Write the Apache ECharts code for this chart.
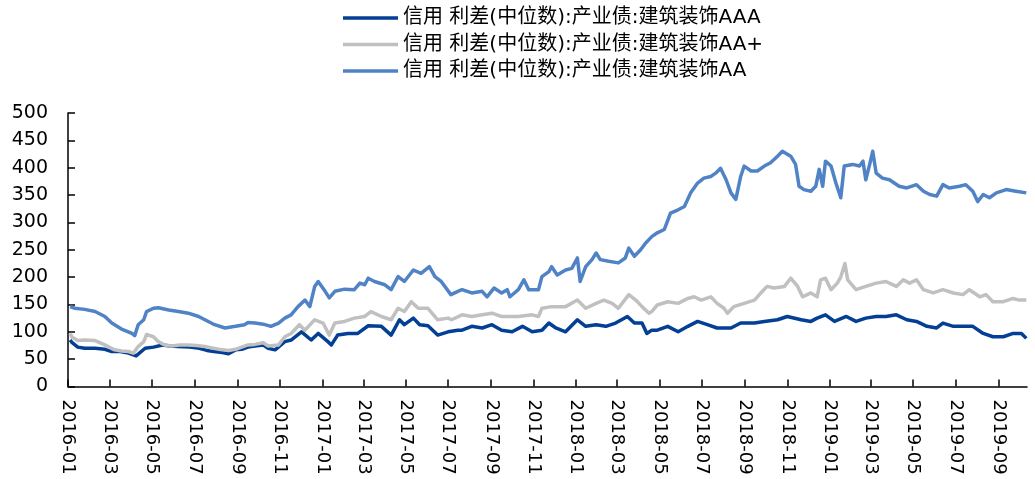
<!DOCTYPE html>
<html>
<head>
<meta charset="utf-8">
<script src="https://cdn.jsdelivr.net/npm/echarts@6/dist/echarts.min.js"></script>
<style>
  html, body { margin: 0; padding: 0; background: #ffffff; }
  #chart { width: 1035px; height: 479px; }
</style>
</head>
<body>
<div id="chart"></div>
<script>
// 信用利差(中位数), 产业债, 建筑装饰, 单位: BP
const seriesNames = [
  '信用 利差(中位数):产业债:建筑装饰AAA',
  '信用 利差(中位数):产业债:建筑装饰AA+',
  '信用 利差(中位数):产业债:建筑装饰AA'
];

const aaaData = [
  ['2016-01-04', 85], ['2016-01-07', 80], ['2016-01-15', 72], ['2016-01-25', 70], ['2016-02-09', 70],
  ['2016-02-23', 68], ['2016-03-04', 64], ['2016-03-16', 64], ['2016-03-28', 61], ['2016-04-08', 56],
  ['2016-04-21', 70], ['2016-05-03', 72], ['2016-05-16', 76], ['2016-05-27', 74], ['2016-06-07', 73],
  ['2016-06-24', 72], ['2016-07-08', 70], ['2016-07-19', 66], ['2016-07-29', 64], ['2016-08-10', 62],
  ['2016-08-19', 60], ['2016-08-29', 67], ['2016-09-07', 68], ['2016-09-16', 72], ['2016-09-26', 74],
  ['2016-10-08', 76], ['2016-10-15', 70], ['2016-10-25', 67], ['2016-11-08', 82], ['2016-11-17', 85],
  ['2016-12-02', 100], ['2016-12-16', 85], ['2016-12-26', 97], ['2017-01-09', 82], ['2017-01-14', 76],
  ['2017-01-23', 94], ['2017-02-07', 97], ['2017-02-21', 97], ['2017-03-08', 111], ['2017-03-27', 110],
  ['2017-04-10', 94], ['2017-04-22', 122], ['2017-04-29', 113], ['2017-05-12', 125], ['2017-05-21', 113],
  ['2017-06-02', 111], ['2017-06-16', 94], ['2017-07-01', 100], ['2017-07-15', 103], ['2017-07-21', 103],
  ['2017-08-04', 110], ['2017-08-19', 107], ['2017-09-02', 113], ['2017-09-16', 103], ['2017-10-01', 100],
  ['2017-10-16', 110], ['2017-10-30', 100], ['2017-11-13', 103], ['2017-11-23', 116], ['2017-12-03', 107],
  ['2017-12-17', 100], ['2018-01-03', 122], ['2018-01-15', 110], ['2018-01-30', 113], ['2018-02-13', 110],
  ['2018-02-27', 116], ['2018-03-16', 128], ['2018-03-26', 116], ['2018-04-06', 116], ['2018-04-13', 97],
  ['2018-04-20', 103], ['2018-04-28', 103], ['2018-05-13', 110], ['2018-05-28', 100], ['2018-06-11', 110],
  ['2018-06-25', 119], ['2018-07-09', 113], ['2018-07-23', 107], ['2018-08-12', 107], ['2018-08-26', 116],
  ['2018-09-15', 116], ['2018-09-29', 119], ['2018-10-18', 122], ['2018-11-01', 128], ['2018-11-21', 122],
  ['2018-12-05', 119], ['2018-12-14', 125], ['2018-12-26', 131], ['2019-01-08', 119], ['2019-01-25', 128],
  ['2019-02-08', 119], ['2019-02-22', 125], ['2019-03-09', 128], ['2019-03-23', 128], ['2019-04-07', 131],
  ['2019-04-22', 122], ['2019-05-06', 119], ['2019-05-21', 110], ['2019-06-04', 107], ['2019-06-13', 116],
  ['2019-06-28', 110], ['2019-07-12', 110], ['2019-07-26', 110], ['2019-08-10', 97], ['2019-08-24', 91],
  ['2019-09-08', 91], ['2019-09-22', 97], ['2019-10-04', 97], ['2019-10-11', 88]
];

const aaPlusData = [
  ['2016-01-04', 97], ['2016-01-07', 90], ['2016-01-15', 84], ['2016-01-25', 85], ['2016-02-09', 84],
  ['2016-02-23', 76], ['2016-03-08', 67], ['2016-03-18', 65], ['2016-03-28', 64], ['2016-04-04', 61],
  ['2016-04-11', 73], ['2016-04-19', 82], ['2016-04-23', 95], ['2016-05-03', 91], ['2016-05-10', 82],
  ['2016-05-19', 76], ['2016-05-29', 74], ['2016-06-10', 76], ['2016-06-22', 76], ['2016-07-04', 75],
  ['2016-07-16', 73], ['2016-07-28', 70], ['2016-08-10', 67], ['2016-08-19', 66], ['2016-08-29', 68],
  ['2016-09-07', 72], ['2016-09-16', 76], ['2016-09-26', 77], ['2016-10-08', 80], ['2016-10-15', 74],
  ['2016-10-30', 76], ['2016-11-08', 91], ['2016-11-17', 97], ['2016-11-29', 113], ['2016-12-07', 103],
  ['2016-12-21', 122], ['2017-01-02', 116], ['2017-01-11', 94], ['2017-01-19', 116], ['2017-02-02', 119],
  ['2017-02-16', 125], ['2017-03-03', 128], ['2017-03-12', 137], ['2017-03-27', 128], ['2017-04-10', 122],
  ['2017-04-20', 143], ['2017-04-29', 137], ['2017-05-09', 155], ['2017-05-19', 143], ['2017-06-02', 143],
  ['2017-06-16', 122], ['2017-07-01', 125], ['2017-07-06', 122], ['2017-07-21', 131], ['2017-08-04', 128],
  ['2017-08-19', 131], ['2017-09-02', 134], ['2017-09-16', 128], ['2017-10-10', 128], ['2017-10-30', 131],
  ['2017-11-08', 128], ['2017-11-13', 143], ['2017-11-27', 146], ['2017-12-17', 146], ['2018-01-03', 158],
  ['2018-01-15', 143], ['2018-01-30', 152], ['2018-02-10', 158], ['2018-02-22', 152], ['2018-03-03', 143],
  ['2018-03-18', 168], ['2018-03-28', 158], ['2018-04-06', 146], ['2018-04-16', 134], ['2018-04-20', 137],
  ['2018-04-28', 149], ['2018-05-13', 155], ['2018-05-28', 152], ['2018-06-11', 161], ['2018-06-20', 164],
  ['2018-06-30', 158], ['2018-07-14', 164], ['2018-07-23', 152], ['2018-08-02', 143], ['2018-08-07', 134],
  ['2018-08-16', 146], ['2018-08-31', 152], ['2018-09-15', 158], ['2018-09-24', 171], ['2018-10-03', 183],
  ['2018-10-13', 180], ['2018-10-28', 183], ['2018-11-06', 198], ['2018-11-16', 183], ['2018-11-23', 164],
  ['2018-12-05', 171], ['2018-12-14', 164], ['2018-12-19', 195], ['2018-12-26', 198], ['2019-01-03', 177],
  ['2019-01-12', 189], ['2019-01-17', 200], ['2019-01-23', 225], ['2019-01-27', 195], ['2019-02-08', 177],
  ['2019-02-22', 183], ['2019-03-09', 189], ['2019-03-23', 192], ['2019-04-07', 183], ['2019-04-17', 195],
  ['2019-04-26', 189], ['2019-05-06', 195], ['2019-05-16', 177], ['2019-05-30', 171], ['2019-06-13', 177],
  ['2019-06-28', 171], ['2019-07-12', 168], ['2019-07-21', 177], ['2019-08-05', 164], ['2019-08-14', 168],
  ['2019-08-24', 155], ['2019-09-08', 155], ['2019-09-22', 161], ['2019-10-01', 158], ['2019-10-11', 158]
];

const aaData = [
  ['2016-01-04', 146], ['2016-01-11', 143], ['2016-01-25', 141], ['2016-02-09', 137], ['2016-02-23', 128],
  ['2016-03-04', 116], ['2016-03-18', 105], ['2016-04-02', 97], ['2016-04-06', 93], ['2016-04-11', 113],
  ['2016-04-19', 122], ['2016-04-23', 137], ['2016-05-03', 143], ['2016-05-10', 144], ['2016-05-25', 140],
  ['2016-06-08', 137], ['2016-06-22', 134], ['2016-07-07', 128], ['2016-07-16', 122], ['2016-07-30', 113],
  ['2016-08-14', 107], ['2016-08-29', 110], ['2016-09-11', 113], ['2016-09-16', 117], ['2016-09-26', 116],
  ['2016-10-08', 114], ['2016-10-19', 110], ['2016-10-30', 116], ['2016-11-08', 125], ['2016-11-17', 131],
  ['2016-11-27', 146], ['2016-12-07', 158], ['2016-12-14', 146], ['2016-12-21', 183], ['2016-12-26', 192],
  ['2017-01-05', 174], ['2017-01-11', 162], ['2017-01-19', 174], ['2017-02-02', 178], ['2017-02-16', 177],
  ['2017-02-24', 189], ['2017-03-03', 186], ['2017-03-08', 198], ['2017-03-17', 192], ['2017-04-01', 186],
  ['2017-04-10', 177], ['2017-04-20', 201], ['2017-04-29', 192], ['2017-05-12', 213], ['2017-05-23', 207],
  ['2017-06-04', 219], ['2017-06-12', 201], ['2017-06-21', 192], ['2017-07-05', 168], ['2017-07-15', 174],
  ['2017-07-21', 177], ['2017-08-04', 171], ['2017-08-19', 174], ['2017-08-26', 164], ['2017-09-05', 180],
  ['2017-09-16', 171], ['2017-09-24', 177], ['2017-09-28', 164], ['2017-10-10', 177], ['2017-10-18', 195],
  ['2017-10-25', 177], ['2017-11-08', 177], ['2017-11-13', 201], ['2017-11-23', 210], ['2017-11-27', 219],
  ['2017-12-05', 204], ['2017-12-17', 213], ['2017-12-26', 216], ['2018-01-03', 235], ['2018-01-07', 192],
  ['2018-01-15', 219], ['2018-01-24', 232], ['2018-01-30', 244], ['2018-02-05', 232], ['2018-02-17', 229],
  ['2018-03-03', 226], ['2018-03-13', 235], ['2018-03-18', 253], ['2018-03-26', 238], ['2018-04-04', 250],
  ['2018-04-11', 262], ['2018-04-20', 274], ['2018-04-28', 281], ['2018-05-08', 287], ['2018-05-17', 317],
  ['2018-05-28', 323], ['2018-06-06', 329], ['2018-06-15', 354], ['2018-06-25', 372], ['2018-07-04', 381],
  ['2018-07-14', 384], ['2018-07-21', 390], ['2018-07-28', 399], ['2018-08-05', 378], ['2018-08-12', 354],
  ['2018-08-19', 342], ['2018-08-26', 384], ['2018-08-31', 403], ['2018-09-10', 394], ['2018-09-19', 394],
  ['2018-09-29', 403], ['2018-10-08', 409], ['2018-10-18', 421], ['2018-10-25', 430], ['2018-11-06', 421],
  ['2018-11-13', 406], ['2018-11-18', 366], ['2018-11-25', 360], ['2018-12-05', 357], ['2018-12-12', 366],
  ['2018-12-17', 397], ['2018-12-22', 366], ['2018-12-26', 412], ['2019-01-03', 403], ['2019-01-10', 372],
  ['2019-01-17', 345], ['2019-01-22', 403], ['2019-02-03', 406], ['2019-02-13', 403], ['2019-02-18', 412],
  ['2019-02-22', 378], ['2019-02-27', 403], ['2019-03-04', 430], ['2019-03-09', 390], ['2019-03-18', 381],
  ['2019-03-28', 378], ['2019-04-11', 366], ['2019-04-22', 363], ['2019-05-06', 369], ['2019-05-16', 357],
  ['2019-05-25', 351], ['2019-06-04', 348], ['2019-06-13', 369], ['2019-06-22', 363], ['2019-07-07', 366],
  ['2019-07-16', 369], ['2019-07-26', 357], ['2019-08-02', 338], ['2019-08-10', 351], ['2019-08-19', 345],
  ['2019-08-29', 354], ['2019-09-12', 360], ['2019-09-26', 357], ['2019-10-11', 354]
];

// calendar range of the x axis; ticks and labels fall on the first day of every odd month
const xStart = '2016-01-01';
const xEnd = '2019-10-12';

const colors = ['#033f95', '#c0c0c0', '#5083c6'];

// one category per calendar day, so dates sit at their true spacing
function buildDays(startStr, endStr) {
  const [y0, m0, d0] = startStr.split('-').map(Number);
  const [y1, m1, d1] = endStr.split('-').map(Number);
  const end = Date.UTC(y1, m1 - 1, d1);
  const out = [];
  for (let t = Date.UTC(y0, m0 - 1, d0); t <= end; t += 86400000) {
    out.push(new Date(t).toISOString().slice(0, 10));
  }
  return out;
}
const days = buildDays(xStart, xEnd);

function isTickDay(value) {
  if (value.slice(8, 10) !== '01') return false;
  const m = Number(value.slice(5, 7));
  return m % 2 === 1;
}

const chart = echarts.init(document.getElementById('chart'), null, { renderer: 'canvas' });

const lineSeries = [aaaData, aaPlusData, aaData].map((data, i) => ({
  name: seriesNames[i],
  type: 'line',
  data: data,
  symbol: 'none',
  showSymbol: false,
  lineStyle: { width: 3.5, color: colors[i], join: 'round' },
  itemStyle: { color: colors[i] },
  emphasis: { disabled: true }
}));

chart.setOption({
  animation: false,
  backgroundColor: '#ffffff',
  color: colors,
  legend: {
    orient: 'vertical',
    left: 338,
    top: 3,
    icon: 'rect',
    itemWidth: 55,
    itemHeight: 3.5,
    itemGap: 6.5,
    textStyle: {
      fontFamily: '"DejaVu Sans", "Noto Sans CJK SC", sans-serif',
      fontSize: 20,
      lineHeight: 20,
      color: '#000000'
    },
    data: seriesNames
  },
  grid: {
    left: 68,
    right: 8,
    top: 113,
    bottom: 92.5,
    containLabel: false,
    outerBoundsMode: 'none'
  },
  xAxis: {
    type: 'category',
    data: days,
    boundaryGap: false,
    axisLine: { show: true, lineStyle: { color: '#000000', width: 1.5 } },
    axisTick: {
      show: true,
      inside: true,
      length: 7,
      lineStyle: { color: '#000000', width: 1.5 },
      interval: function (idx, value) { return isTickDay(value); }
    },
    axisLabel: {
      interval: function (idx, value) { return isTickDay(value); },
      rotate: -90,
      margin: 13,
      color: '#000000',
      fontFamily: '"DejaVu Sans", sans-serif',
      fontSize: 18,
      formatter: function (value) { return value.slice(0, 7); }
    },
    splitLine: { show: false }
  },
  yAxis: {
    type: 'value',
    min: 0,
    max: 500,
    interval: 50,
    axisLine: { show: true, lineStyle: { color: '#000000', width: 1.5 } },
    axisTick: { show: true, inside: true, length: 7, lineStyle: { color: '#000000', width: 1.5 } },
    axisLabel: {
      margin: 20,
      color: '#000000',
      fontFamily: '"DejaVu Sans", sans-serif',
      fontSize: 19
    },
    splitLine: { show: false }
  },
  series: lineSeries
});
</script>
</body>
</html>
